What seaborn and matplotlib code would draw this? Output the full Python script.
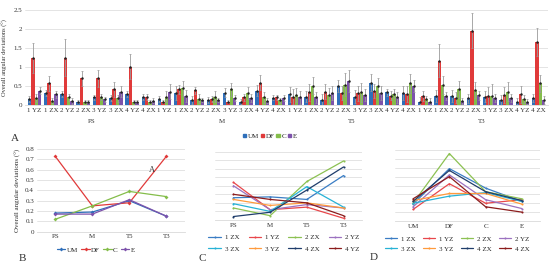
import seaborn as sns
import matplotlib.pyplot as plt
from matplotlib.patches import Patch
import pandas as pd
import numpy as np

phases = ['PS', 'M', 'T5', 'T3']
subjects = ['1 YZ', '1 ZX', '2 YZ', '2 ZX', '3 YZ', '3 ZX', '4 YZ', '4 ZX']
measures = ['UM', 'DF', 'C', 'E']

# panel A: values per phase (PS, M, T5, T3) x subject
um = [0.15, 0.32, 0.28, 0.09, 0.20, 0.19, 0.29, 0.20,
      0.16, 0.31, 0.13, 0.13, 0.32, 0.09, 0.38, 0.19,
      0.28, 0.22, 0.13, 0.51, 0.22, 0.59, 0.33, 0.31,
      0.09, 0.24, 0.24, 0.17, 0.22, 0.13, 0.09, 0.18]
dfl = [1.23, 0.57, 1.25, 0.70, 0.70, 0.41, 1.01, 0.20,
       0.09, 0.41, 0.39, 0.15, 0.09, 0.20, 0.59, 0.20,
       0.22, 0.33, 0.35, 0.31, 0.31, 0.37, 0.24, 0.29,
       0.24, 1.17, 0.19, 1.95, 0.24, 0.26, 0.28, 1.67]
cc = [0.18, 0.11, 0.20, 0.09, 0.22, 0.17, 0.09, 0.09,
      0.22, 0.44, 0.16, 0.22, 0.41, 0.31, 0.20, 0.12,
      0.26, 0.51, 0.25, 0.53, 0.33, 0.51, 0.29, 0.57,
      0.15, 0.53, 0.41, 0.39, 0.24, 0.35, 0.16, 0.57]
ee = [0.38, 0.28, 0.11, 0.09, 0.15, 0.35, 0.09, 0.11,
      0.35, 0.24, 0.13, 0.13, 0.18, 0.19, 0.11, 0.18,
      0.20, 0.20, 0.32, 0.63, 0.26, 0.32, 0.20, 0.50,
      0.09, 0.24, 0.11, 0.26, 0.19, 0.18, 0.09, 0.13]

um_err = [0.08, 0.08, 0.08, 0.05, 0.07, 0.08, 0.08, 0.08,
          0.08, 0.18, 0.10, 0.08, 0.12, 0.06, 0.14, 0.06,
          0.20, 0.15, 0.17, 0.16, 0.18, 0.22, 0.10, 0.18,
          0.12, 0.16, 0.16, 0.12, 0.14, 0.12, 0.10, 0.10]
df_err = [0.40, 0.19, 0.50, 0.20, 0.22, 0.20, 0.33, 0.08,
          0.04, 0.12, 0.09, 0.08, 0.05, 0.10, 0.20, 0.06,
          0.20, 0.22, 0.20, 0.18, 0.20, 0.18, 0.12, 0.20,
          0.14, 0.43, 0.15, 0.46, 0.24, 0.20, 0.22, 0.37]
c_err = [0.10, 0.06, 0.10, 0.04, 0.08, 0.08, 0.04, 0.04,
         0.14, 0.20, 0.12, 0.14, 0.18, 0.15, 0.14, 0.06,
         0.18, 0.22, 0.20, 0.30, 0.24, 0.20, 0.12, 0.25,
         0.08, 0.23, 0.23, 0.22, 0.30, 0.25, 0.10, 0.22]
e_err = [0.10, 0.10, 0.08, 0.04, 0.06, 0.15, 0.04, 0.06,
         0.20, 0.15, 0.06, 0.06, 0.07, 0.10, 0.06, 0.08,
         0.18, 0.14, 0.18, 0.30, 0.16, 0.18, 0.14, 0.15,
         0.08, 0.10, 0.08, 0.12, 0.10, 0.10, 0.06, 0.10]

# panel B: mean per phase
b_um = [0.18, 0.19, 0.30, 0.15]
b_df = [0.73, 0.25, 0.28, 0.73]
b_c = [0.12, 0.25, 0.39, 0.34]
b_e = [0.17, 0.17, 0.31, 0.15]

# panels C and D: per subject
sub_order = ['1 ZX', '1 YZ', '2 ZX', '2 YZ', '3 ZX', '3 YZ', '4 ZX', '4 YZ']
d_labels = ['1 ZX', '1 YZ', '2 ZX', '2 YZ', '3 ZX', '3 YZ', '4 ZX', '4 ZX']
c_vals = {
    '1 ZX': [0.26, 0.27, 0.24, 0.52],
    '1 YZ': [0.44, 0.12, 0.15, 0.02],
    '2 ZX': [0.14, 0.05, 0.45, 0.69],
    '2 YZ': [0.40, 0.12, 0.18, 0.14],
    '3 ZX': [0.19, 0.10, 0.39, 0.15],
    '3 YZ': [0.24, 0.17, 0.20, 0.14],
    '4 ZX': [0.04, 0.09, 0.35, 0.62],
    '4 YZ': [0.30, 0.24, 0.20, 0.05],
}
d_vals = {
    '1 ZX': [0.19, 0.59, 0.37, 0.22],
    '1 YZ': [0.13, 0.42, 0.20, 0.24],
    '2 ZX': [0.20, 0.76, 0.33, 0.25],
    '2 YZ': [0.16, 0.52, 0.24, 0.14],
    '3 ZX': [0.20, 0.28, 0.32, 0.22],
    '3 YZ': [0.23, 0.31, 0.31, 0.19],
    '4 ZX': [0.22, 0.57, 0.33, 0.23],
    '4 YZ': [0.25, 0.50, 0.16, 0.10],
}

M_COL = ['#2f6fba', '#e03a3a', '#84bd4a', '#7d52ab']
S_COL = ['#3a7dc4', '#e8474b', '#8cc152', '#9c72c0',
         '#27b2d6', '#ff9a3c', '#1f3d6b', '#8b1c1c']
GRID = '#d9d9d9'
TXT = '#333333'
FS = 5

sns.set_theme(style='white')
plt.rcParams['font.family'] = ['Liberation Serif', 'DejaVu Serif']
plt.rcParams['font.size'] = FS

fig = plt.figure(figsize=(5.5, 2.65), dpi=100, facecolor='white')


def style(ax, ymax, step, labels=True):
    ax.set_ylim(0, ymax)
    ax.set_yticks(np.arange(0, ymax + 1e-9, step))
    ax.yaxis.grid(True, color=GRID, lw=0.5)
    ax.set_axisbelow(True)
    for k in ['top', 'right', 'left']:
        ax.spines[k].set_visible(False)
    ax.spines['bottom'].set_color(GRID)
    ax.spines['bottom'].set_linewidth(0.6)
    ax.tick_params(axis='both', length=0, labelsize=FS, colors=TXT, pad=2)
    if not labels:
        ax.set_yticklabels([])
    ax.set_xlabel('')
    ax.set_ylabel('')


def row_major(items, ncol=4):
    # matplotlib fills legend columns first; reorder so rows read left to right
    nrow = len(items) // ncol
    return [items[r * ncol + c] for c in range(ncol) for r in range(nrow)]


# ---- A ----
axA = fig.add_axes([0.045, 0.604, 0.952, 0.358])
keys = [f'{p} {s}' for p in phases for s in subjects]
rows = []
for vals, errs, m in zip([um, dfl, cc, ee], [um_err, df_err, c_err, e_err], measures):
    for k, v, e in zip(keys, vals, errs):
        rows.append({'key': k, 'val': v, 'err': e, 'measure': m})
dA = pd.DataFrame(rows)
sns.barplot(data=dA, x='key', y='val', hue='measure', order=keys, hue_order=measures,
            palette=M_COL, errorbar=None, width=0.84, ax=axA, legend=False,
            saturation=1, linewidth=0)
for cont, m in zip(axA.containers, measures):
    sub = dA[dA['measure'] == m]
    xs = [p.get_x() + p.get_width() / 2 for p in cont]
    axA.errorbar(xs, sub['val'], yerr=sub['err'], fmt='none', ecolor='#9a9a9a',
                 elinewidth=0.6, capsize=0.8, capthick=0.5)
    axA.scatter(xs, sub['val'], s=0.6, color='#222222', zorder=4)
style(axA, 2.5, 0.5)
axA.set_yticklabels(['0', '0.5', '1', '1.5', '2', '2.5'])
axA.set_xticks(range(len(keys)))
axA.set_xticklabels(subjects * 4)
axA.set_xlim(-0.6, len(keys) - 0.4)
axA.set_ylabel('Overall angular deviations (°)', fontsize=4.6, color=TXT, labelpad=4)
for i, p in enumerate(phases):
    axA.text(3.5 + 8 * i, -0.17, p, transform=axA.get_xaxis_transform(),
             ha='center', va='center', fontsize=FS, color=TXT)
hA = [Patch(color=c) for c in M_COL]
axA.legend(hA, measures, loc='center', bbox_to_anchor=(0.468, -0.33), ncol=4,
           frameon=False, fontsize=FS, handlelength=0.5, handleheight=0.5,
           handletextpad=0.2, columnspacing=0.3)

# ---- B ----
axB = fig.add_axes([0.067, 0.126, 0.269, 0.311])
dB = pd.DataFrame({'phase': phases * 4,
                   'val': b_um + b_df + b_c + b_e,
                   'measure': np.repeat(measures, 4)})
sns.lineplot(data=dB, x='phase', y='val', hue='measure', hue_order=measures,
             palette=M_COL, marker='D', markersize=2, markeredgewidth=0,
             lw=0.9, sort=False, ax=axB)
style(axB, 0.8, 0.1)
axB.set_yticklabels(['0', '0.1', '0.2', '0.3', '0.4', '0.5', '0.6', '0.7', '0.8'])
axB.set_xlim(-0.5, 3.5)
axB.set_ylabel('Overall angular deviations (°)', fontsize=FS, color=TXT, labelpad=3)
axB.text(2.62, 0.6, 'A', fontsize=6, color=TXT, ha='center', va='center')
axB.legend(loc='center', bbox_to_anchor=(0.4, -0.22), ncol=4, frameon=False,
           fontsize=FS, handlelength=1.2, handletextpad=0.2, columnspacing=0.5)

# ---- C ----
axC = fig.add_axes([0.391, 0.170, 0.267, 0.258])
dC = pd.DataFrame([{'phase': p, 'val': v, 'sub': s}
                   for s in sub_order for p, v in zip(phases, c_vals[s])])
sns.lineplot(data=dC, x='phase', y='val', hue='sub', hue_order=sub_order,
             palette=S_COL, marker='o', markersize=1.5, markeredgewidth=0,
             lw=0.9, sort=False, ax=axC)
style(axC, 0.8, 0.1, labels=False)
axC.set_xlim(-0.5, 3.5)
hC, lC = axC.get_legend_handles_labels()
axC.legend(row_major(hC), row_major(lC), loc='upper center', bbox_to_anchor=(0.47, -0.12),
           ncol=4, frameon=False, fontsize=FS, handlelength=1.8, handletextpad=0.6,
           columnspacing=1.3, labelspacing=0.8)

# ---- D ----
axD = fig.add_axes([0.718, 0.166, 0.264, 0.268])
dD = pd.DataFrame([{'measure': m, 'val': v, 'sub': s}
                   for s in sub_order for m, v in zip(measures, d_vals[s])])
sns.lineplot(data=dD, x='measure', y='val', hue='sub', hue_order=sub_order,
             palette=S_COL, marker='o', markersize=1.5, markeredgewidth=0,
             lw=0.9, sort=False, ax=axD)
style(axD, 0.8, 0.1, labels=False)
axD.set_xlim(-0.5, 3.5)
hD, _ = axD.get_legend_handles_labels()
axD.legend(row_major(hD), row_major(d_labels), loc='upper center',
           bbox_to_anchor=(0.43, -0.12), ncol=4, frameon=False, fontsize=FS,
           handlelength=1.8, handletextpad=0.6, columnspacing=1.0, labelspacing=0.6)

for lab, x, y in [('A', 0.027, 0.479), ('B', 0.04, 0.026),
                  ('C', 0.367, 0.026), ('D', 0.68, 0.03)]:
    fig.text(x, y, lab, fontsize=8, color=TXT, ha='center', va='center')

fig.savefig('out.png', dpi=100, facecolor='white')
